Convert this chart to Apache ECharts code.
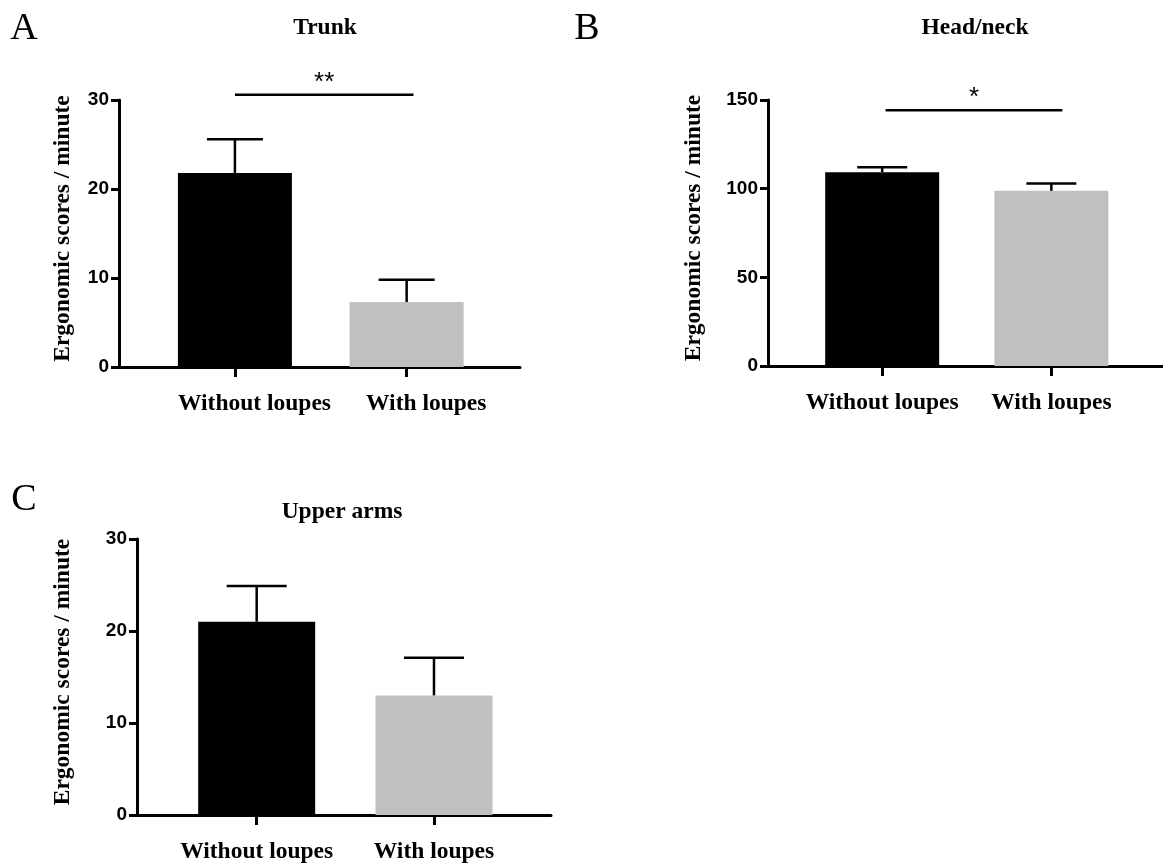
<!DOCTYPE html>
<html>
<head>
<meta charset="utf-8">
<script src="https://cdn.jsdelivr.net/npm/echarts@6/dist/echarts.min.js"></script>
<style>
    html, body { margin: 0; padding: 0; background: #fff; }
    #chart { width: 1163px; height: 865px; }
</style>
</head>
<body>
<div id="chart"></div>
<script>
// data
const categories = ['Without loupes', 'With loupes'];
const barColors = ['#000000', '#c0c0c0'];

const trunkMean = [21.8, 7.3];
const trunkErr = [3.8, 2.5];
const trunkSig = [0, 1.04, 30.6, '**'];   // from, to, y, text

const headMean = [109.3, 98.8];
const headErr = [2.8, 4.1];
const headSig = [0.02, 1.065, 144.2, '*'];

const armsMean = [21.0, 13.0];
const armsErr = [3.9, 4.1];

const trunkTicks = { max: 30, interval: 10 };
const headTicks = { max: 150, interval: 50 };
const armsTicks = { max: 30, interval: 10 };

const SERIF = '"Liberation Serif", "Times New Roman", serif';
const SANS = '"Liberation Sans", Arial, sans-serif';

let chart = echarts.init(document.getElementById('chart'));

let grids = [], xAxes = [], yAxes = [], series = [];

function addPanel(p) {//one bar panel: grid + axes + bars + error bars (+ significance)
    let i = grids.length;
    grids.push({ left: p.left, right: p.right, top: p.top, bottom: p.bottom, containLabel: false });
    xAxes.push({
        gridIndex: i,
        type: 'value',
        min: -0.675,
        max: 1.66,
        splitLine: { show: false },
        axisLine: { show: true, onZero: false, lineStyle: { color: '#000', width: 3 } },
        axisTick: { show: true, customValues: [0, 1], length: 10, inside: false, lineStyle: { color: '#000', width: 3 } },
        axisLabel: {
            customValues: [0 + p.labelShift, 1 + p.labelShift],
            formatter: (v) => categories[Math.round(v - p.labelShift)],
            margin: 25,
            color: '#000',
            fontFamily: SERIF,
            fontWeight: 'bold',
            fontSize: 23.5
        }
    });
    yAxes.push({
        gridIndex: i,
        type: 'value',
        min: 0,
        max: p.ticks.max,
        interval: p.ticks.interval,
        splitLine: { show: false },
        axisLine: { show: true, onZero: false, lineStyle: { color: '#000', width: 3 } },
        axisTick: { show: true, length: 8, lineStyle: { color: '#000', width: 3 } },
        axisLabel: { margin: 10, color: '#000', fontFamily: SANS, fontWeight: 'bold', fontSize: 19 },
        name: 'Ergonomic scores / minute',
        nameLocation: 'middle',
        nameRotate: 90,
        nameGap: p.nameGap,
        nameTextStyle: { color: '#000', fontFamily: SERIF, fontWeight: 'bold', fontSize: 23.5, padding: [0, 0, 0, 10] }
    });
    series.push({
        type: 'bar',
        xAxisIndex: i,
        yAxisIndex: i,
        barWidth: p.barWidth,
        silent: true,
        data: p.mean.map((v, k) => ({ value: [k, v], itemStyle: { color: barColors[k] } }))
    });
    series.push({
        type: 'custom',
        xAxisIndex: i,
        yAxisIndex: i,
        silent: true,
        clip: false,
        z: 3,
        data: p.mean.map((v, k) => [k, v, v + p.err[k]]),
        renderItem: function (params, api) {
            let base = api.coord([api.value(0), api.value(1)]);
            let top = api.coord([api.value(0), api.value(2)]);
            let st = { stroke: '#000', lineWidth: 2.5 };
            return {
                type: 'group',
                children: [
                    { type: 'line', shape: { x1: base[0], y1: base[1], x2: top[0], y2: top[1] }, style: st },
                    { type: 'line', shape: { x1: top[0] - p.cap, y1: top[1], x2: top[0] + p.cap, y2: top[1] }, style: st }
                ]
            };
        }
    });
    if (p.sig) {
        series.push({
            type: 'custom',
            xAxisIndex: i,
            yAxisIndex: i,
            silent: true,
            clip: false,
            data: [p.sig],
            renderItem: function (params, api) {
                let a = api.coord([api.value(0), api.value(2)]);
                let b = api.coord([api.value(1), api.value(2)]);
                return {
                    type: 'group',
                    children: [
                        { type: 'line', shape: { x1: a[0], y1: a[1], x2: b[0], y2: b[1] }, style: { stroke: '#000', lineWidth: 2.5 } },
                        {
                            type: 'text',
                            style: {
                                x: (a[0] + b[0]) / 2, y: a[1] + 1,
                                text: p.sig[3],
                                align: 'center', verticalAlign: 'bottom',
                                font: 'normal 26px ' + SANS,
                                fill: '#000'
                            }
                        }
                    ]
                };
            }
        });
    }
}

addPanel({ left: 119, right: 643, top: 100, bottom: 498, mean: trunkMean, err: trunkErr, sig: trunkSig,
    ticks: trunkTicks, barWidth: 114, cap: 28, labelShift: 0.114, nameGap: 44 });
addPanel({ left: 768, right: 0, top: 100, bottom: 499, mean: headMean, err: headErr, sig: headSig,
    ticks: headTicks, barWidth: 114, cap: 25, labelShift: 0, nameGap: 62 });
addPanel({ left: 137, right: 612, top: 539, bottom: 50, mean: armsMean, err: armsErr, sig: null,
    ticks: armsTicks, barWidth: 117, cap: 30, labelShift: 0, nameGap: 62 });

function titleAt(text, x, y, size, weight) {
    return { text: text, left: x, top: y, textAlign: 'center', padding: 0,
        textStyle: { color: '#000', fontFamily: SERIF, fontWeight: weight, fontSize: size } };
}

chart.setOption({
    backgroundColor: '#fff',
    animation: false,
    title: [
        titleAt('A', 24, 10, 38, 'normal'),
        titleAt('B', 587, 10, 38, 'normal'),
        titleAt('C', 24, 481, 38, 'normal'),
        titleAt('Trunk', 325, 16, 23.5, 'bold'),
        titleAt('Head/neck', 975, 16, 23.5, 'bold'),
        titleAt('Upper arms', 342, 500, 23.5, 'bold')
    ],
    grid: grids,
    xAxis: xAxes,
    yAxis: yAxes,
    series: series
});
</script>
</body>
</html>
